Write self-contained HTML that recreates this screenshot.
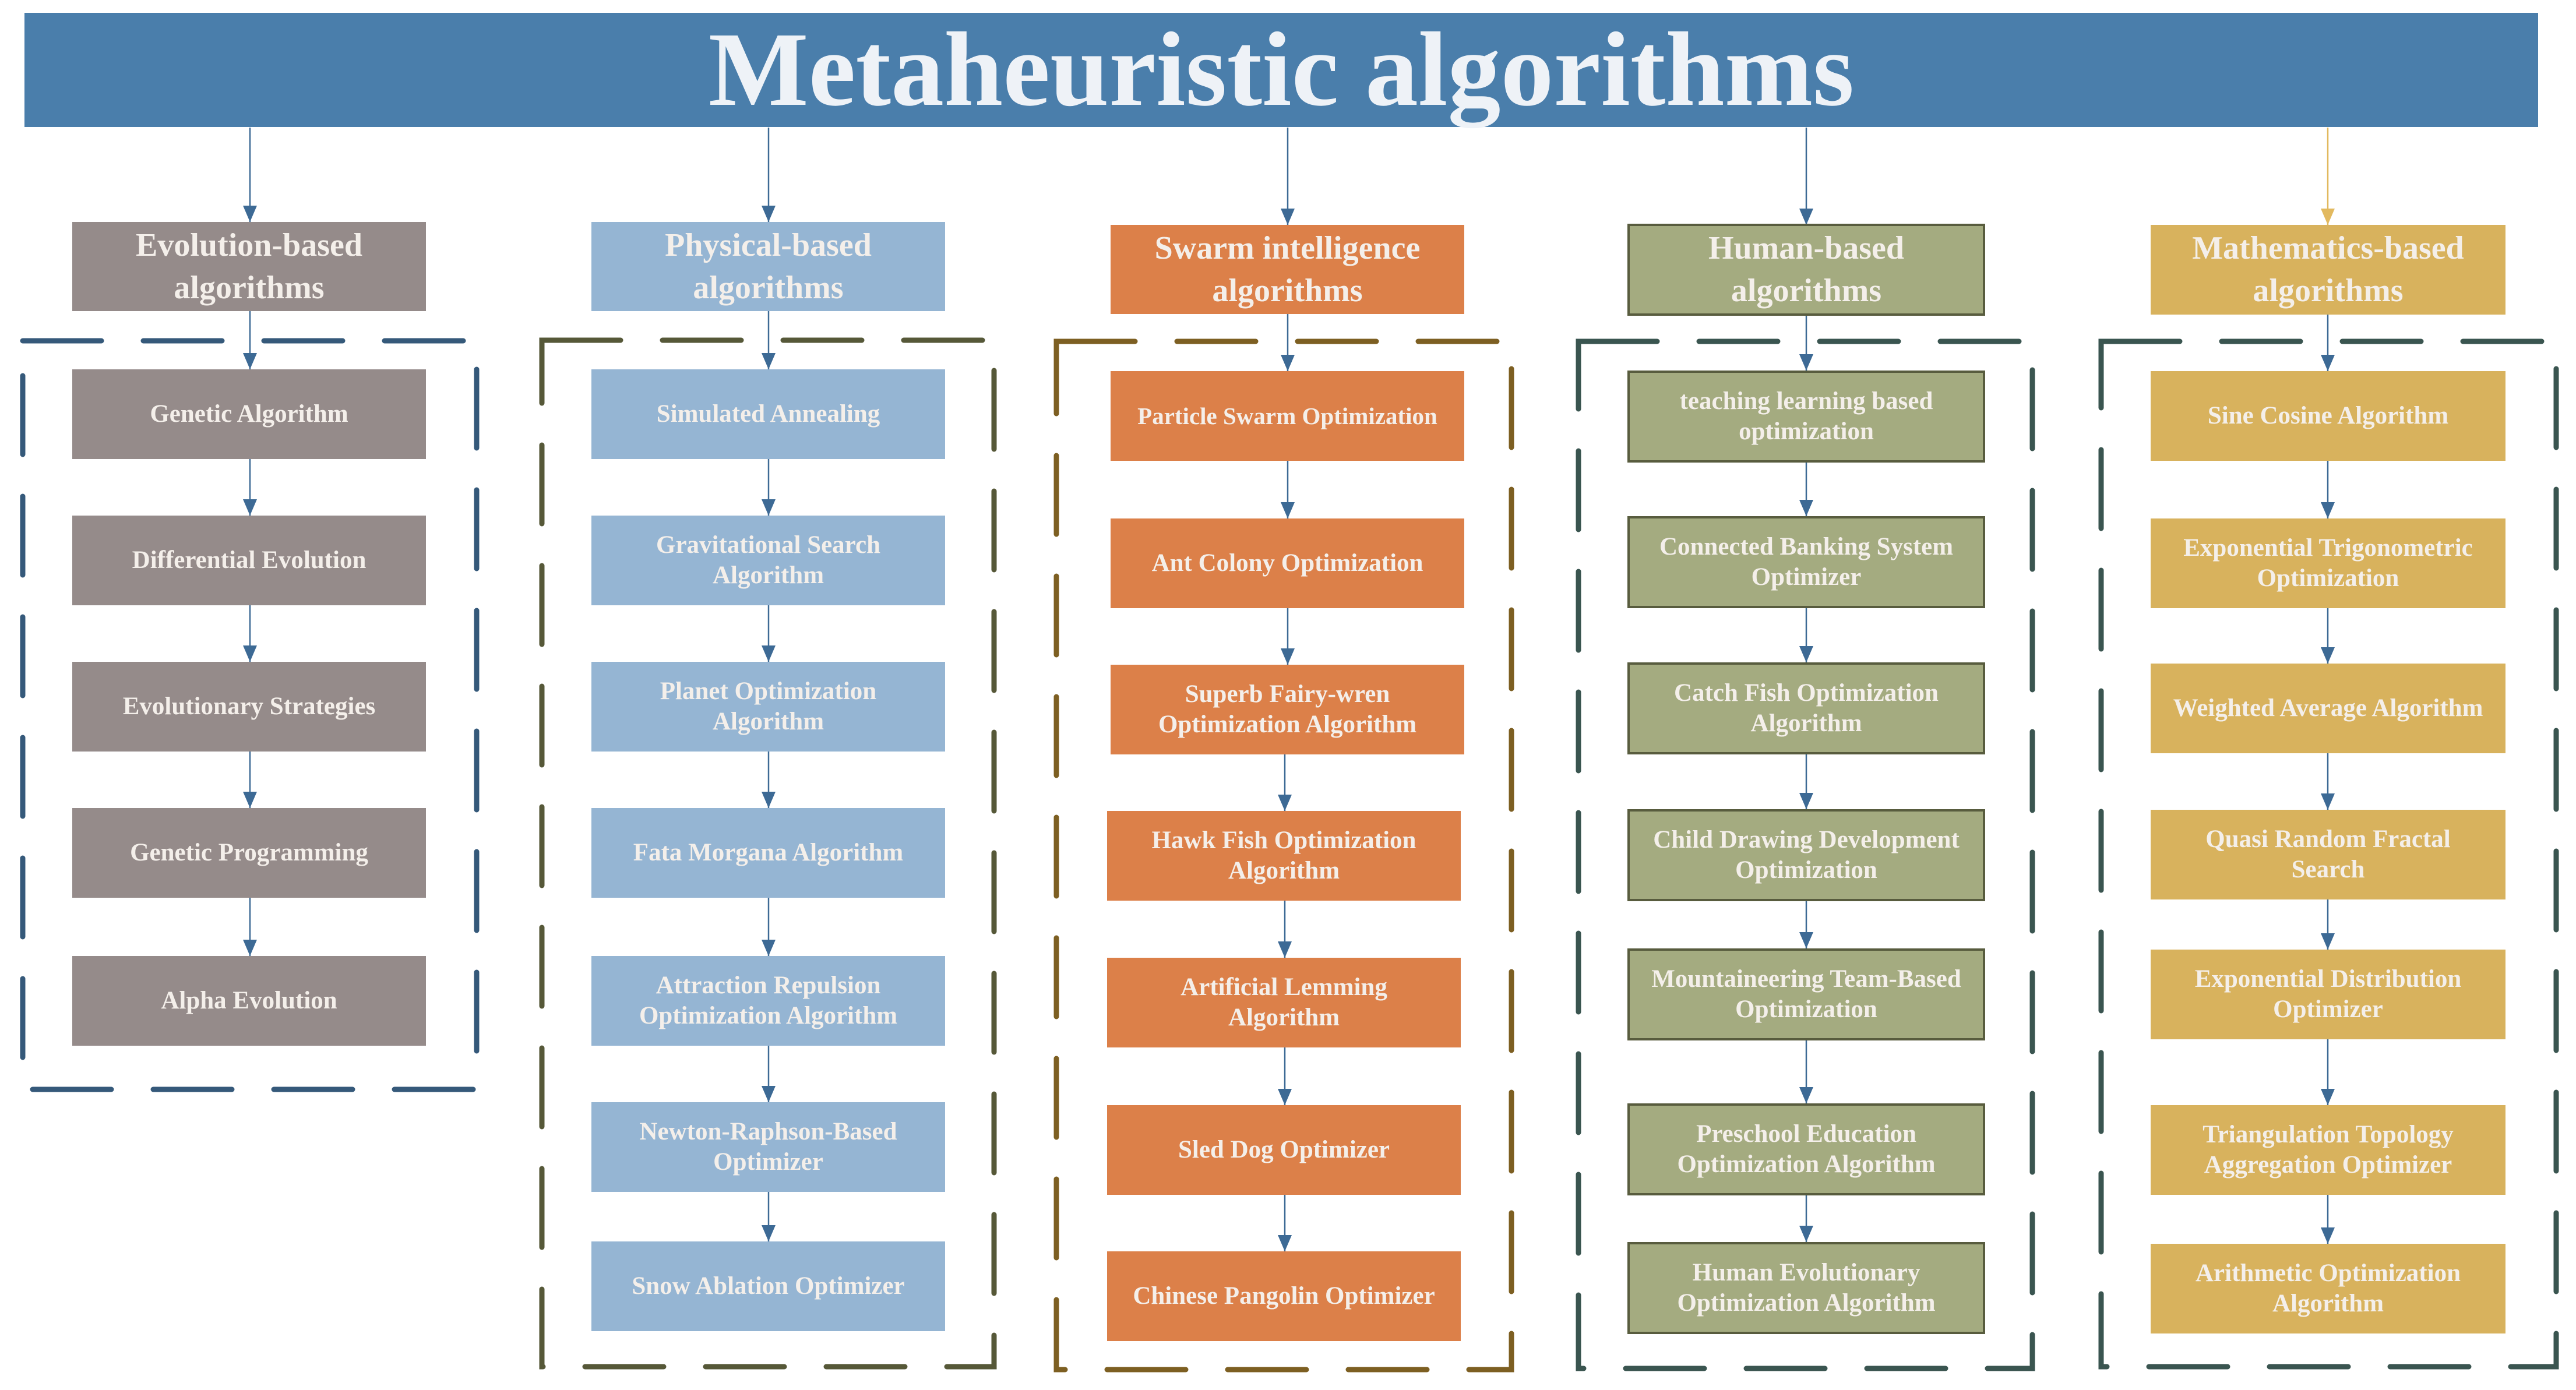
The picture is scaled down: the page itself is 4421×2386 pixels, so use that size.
<!DOCTYPE html>
<html><head><meta charset="utf-8"><style>
body{margin:0;width:4421px;height:2386px;background:#fff;position:relative;overflow:hidden;font-family:"Liberation Serif",serif;font-weight:bold}
.b{position:absolute;display:flex;align-items:center;justify-content:center;text-align:center;color:#f4efea;box-sizing:border-box;line-height:1.22}
.h{font-size:56px;line-height:1.3}
.i{font-size:43px}
.e{background:#958b8a}.p{background:#95b5d3}.s{background:#dc8049}.u{background:#a4ab80;border:4px solid #585c3e}.m{background:#d8b25d}
svg{position:absolute;left:0;top:0}
</style></head><body>
<div style="position:absolute;left:42px;top:22px;width:4314px;height:196px;background:#4a7eab"></div>
<div class="b" style="left:42px;top:22px;width:4314px;height:196px;font-size:182px;color:#eef2f7;line-height:1">Metaheuristic algorithms</div>

<svg width="4421" height="2386">
<defs>
<marker id="a" markerWidth="24" markerHeight="28" refX="12" refY="28" markerUnits="userSpaceOnUse" viewBox="0 0 24 28"><path d="M0,0 L24,0 L12,28 Z" fill="#3d6a95"/></marker>
<marker id="g" markerWidth="24" markerHeight="28" refX="12" refY="28" markerUnits="userSpaceOnUse" viewBox="0 0 24 28"><path d="M0,0 L24,0 L12,28 Z" fill="#e2b95f"/></marker>
</defs>
<g fill="none" stroke-width="9" stroke-linecap="round" stroke-dasharray="135 72">
<rect x="39" y="585" width="779" height="1285" stroke="#35597a"/>
<rect x="930" y="584" width="776" height="1762" stroke="#565838"/>
<rect x="1813" y="586" width="781" height="1765" stroke="#7d5f22"/>
<rect x="2709" y="586" width="779" height="1763" stroke="#3a5550"/>
<rect x="3606" y="586" width="781" height="1760" stroke="#3a5550"/>
</g>
<g stroke="#3d6a95" stroke-width="2.5">
<line x1="429" y1="219" x2="429" y2="381" marker-end="url(#a)"/>
<line x1="1319" y1="219" x2="1319" y2="381" marker-end="url(#a)"/>
<line x1="2210" y1="219" x2="2210" y2="386" marker-end="url(#a)"/>
<line x1="3100" y1="219" x2="3100" y2="386" marker-end="url(#a)"/>
<line x1="3995" y1="219" x2="3995" y2="386" stroke="#e2b95f" marker-end="url(#g)"/>
<line x1="429" y1="534" x2="429" y2="634" marker-end="url(#a)"/>
<line x1="429" y1="788" x2="429" y2="885" marker-end="url(#a)"/>
<line x1="429" y1="1039" x2="429" y2="1136" marker-end="url(#a)"/>
<line x1="429" y1="1290" x2="429" y2="1387" marker-end="url(#a)"/>
<line x1="429" y1="1541" x2="429" y2="1641" marker-end="url(#a)"/>
<line x1="1319" y1="534" x2="1319" y2="634" marker-end="url(#a)"/>
<line x1="1319" y1="788" x2="1319" y2="885" marker-end="url(#a)"/>
<line x1="1319" y1="1039" x2="1319" y2="1136" marker-end="url(#a)"/>
<line x1="1319" y1="1290" x2="1319" y2="1387" marker-end="url(#a)"/>
<line x1="1319" y1="1541" x2="1319" y2="1641" marker-end="url(#a)"/>
<line x1="1319" y1="1795" x2="1319" y2="1892" marker-end="url(#a)"/>
<line x1="1319" y1="2046" x2="1319" y2="2131" marker-end="url(#a)"/>
<line x1="2210" y1="539" x2="2210" y2="637" marker-end="url(#a)"/>
<line x1="2210" y1="791" x2="2210" y2="890" marker-end="url(#a)"/>
<line x1="2210" y1="1044" x2="2210" y2="1141" marker-end="url(#a)"/>
<line x1="2205" y1="1295" x2="2205" y2="1392" marker-end="url(#a)"/>
<line x1="2205" y1="1546" x2="2205" y2="1644" marker-end="url(#a)"/>
<line x1="2205" y1="1798" x2="2205" y2="1897" marker-end="url(#a)"/>
<line x1="2205" y1="2051" x2="2205" y2="2148" marker-end="url(#a)"/>
<line x1="3100" y1="542" x2="3100" y2="636" marker-end="url(#a)"/>
<line x1="3100" y1="794" x2="3100" y2="886" marker-end="url(#a)"/>
<line x1="3100" y1="1044" x2="3100" y2="1137" marker-end="url(#a)"/>
<line x1="3100" y1="1295" x2="3100" y2="1389" marker-end="url(#a)"/>
<line x1="3100" y1="1547" x2="3100" y2="1628" marker-end="url(#a)"/>
<line x1="3100" y1="1786" x2="3100" y2="1894" marker-end="url(#a)"/>
<line x1="3100" y1="2052" x2="3100" y2="2132" marker-end="url(#a)"/>
<line x1="3995" y1="540" x2="3995" y2="637" marker-end="url(#a)"/>
<line x1="3995" y1="791" x2="3995" y2="890" marker-end="url(#a)"/>
<line x1="3995" y1="1044" x2="3995" y2="1139" marker-end="url(#a)"/>
<line x1="3995" y1="1293" x2="3995" y2="1390" marker-end="url(#a)"/>
<line x1="3995" y1="1544" x2="3995" y2="1630" marker-end="url(#a)"/>
<line x1="3995" y1="1784" x2="3995" y2="1897" marker-end="url(#a)"/>
<line x1="3995" y1="2051" x2="3995" y2="2135" marker-end="url(#a)"/>
</g>
</svg>

<div class="b h e" style="left:124px;top:381px;width:607px;height:153px">Evolution-based<br>algorithms</div>
<div class="b h p" style="left:1015px;top:381px;width:607px;height:153px">Physical-based<br>algorithms</div>
<div class="b h s" style="left:1906px;top:386px;width:607px;height:153px">Swarm intelligence<br>algorithms</div>
<div class="b h u" style="left:2793px;top:384px;width:614px;height:158px">Human-based<br>algorithms</div>
<div class="b h m" style="left:3691px;top:386px;width:609px;height:154px">Mathematics-based<br>algorithms</div>

<div class="b i e" style="left:124px;top:634px;width:607px;height:154px">Genetic Algorithm</div>
<div class="b i e" style="left:124px;top:885px;width:607px;height:154px">Differential Evolution</div>
<div class="b i e" style="left:124px;top:1136px;width:607px;height:154px">Evolutionary Strategies</div>
<div class="b i e" style="left:124px;top:1387px;width:607px;height:154px">Genetic Programming</div>
<div class="b i e" style="left:124px;top:1641px;width:607px;height:154px">Alpha Evolution</div>

<div class="b i p" style="left:1015px;top:634px;width:607px;height:154px">Simulated Annealing</div>
<div class="b i p" style="left:1015px;top:885px;width:607px;height:154px">Gravitational Search<br>Algorithm</div>
<div class="b i p" style="left:1015px;top:1136px;width:607px;height:154px">Planet Optimization<br>Algorithm</div>
<div class="b i p" style="left:1015px;top:1387px;width:607px;height:154px">Fata Morgana Algorithm</div>
<div class="b i p" style="left:1015px;top:1641px;width:607px;height:154px">Attraction Repulsion<br>Optimization Algorithm</div>
<div class="b i p" style="left:1015px;top:1892px;width:607px;height:154px">Newton-Raphson-Based<br>Optimizer</div>
<div class="b i p" style="left:1015px;top:2131px;width:607px;height:154px">Snow Ablation Optimizer</div>

<div class="b i s" style="left:1906px;top:637px;width:607px;height:154px;font-size:41px">Particle Swarm Optimization</div>
<div class="b i s" style="left:1906px;top:890px;width:607px;height:154px">Ant Colony Optimization</div>
<div class="b i s" style="left:1906px;top:1141px;width:607px;height:154px">Superb Fairy-wren<br>Optimization Algorithm</div>
<div class="b i s" style="left:1900px;top:1392px;width:607px;height:154px">Hawk Fish Optimization<br>Algorithm</div>
<div class="b i s" style="left:1900px;top:1644px;width:607px;height:154px">Artificial Lemming<br>Algorithm</div>
<div class="b i s" style="left:1900px;top:1897px;width:607px;height:154px">Sled Dog Optimizer</div>
<div class="b i s" style="left:1900px;top:2148px;width:607px;height:154px">Chinese Pangolin Optimizer</div>

<div class="b i u" style="left:2793px;top:636px;width:614px;height:158px">teaching learning based<br>optimization</div>
<div class="b i u" style="left:2793px;top:886px;width:614px;height:158px">Connected Banking System<br>Optimizer</div>
<div class="b i u" style="left:2793px;top:1137px;width:614px;height:158px">Catch Fish Optimization<br>Algorithm</div>
<div class="b i u" style="left:2793px;top:1389px;width:614px;height:158px">Child Drawing Development<br>Optimization</div>
<div class="b i u" style="left:2793px;top:1628px;width:614px;height:158px">Mountaineering Team-Based<br>Optimization</div>
<div class="b i u" style="left:2793px;top:1894px;width:614px;height:158px">Preschool Education<br>Optimization Algorithm</div>
<div class="b i u" style="left:2793px;top:2132px;width:614px;height:158px">Human Evolutionary<br>Optimization Algorithm</div>

<div class="b i m" style="left:3691px;top:637px;width:609px;height:154px">Sine Cosine Algorithm</div>
<div class="b i m" style="left:3691px;top:890px;width:609px;height:154px">Exponential Trigonometric<br>Optimization</div>
<div class="b i m" style="left:3691px;top:1139px;width:609px;height:154px">Weighted Average Algorithm</div>
<div class="b i m" style="left:3691px;top:1390px;width:609px;height:154px">Quasi Random Fractal<br>Search</div>
<div class="b i m" style="left:3691px;top:1630px;width:609px;height:154px">Exponential Distribution<br>Optimizer</div>
<div class="b i m" style="left:3691px;top:1897px;width:609px;height:154px">Triangulation Topology<br>Aggregation Optimizer</div>
<div class="b i m" style="left:3691px;top:2135px;width:609px;height:154px">Arithmetic Optimization<br>Algorithm</div>
</body></html>
